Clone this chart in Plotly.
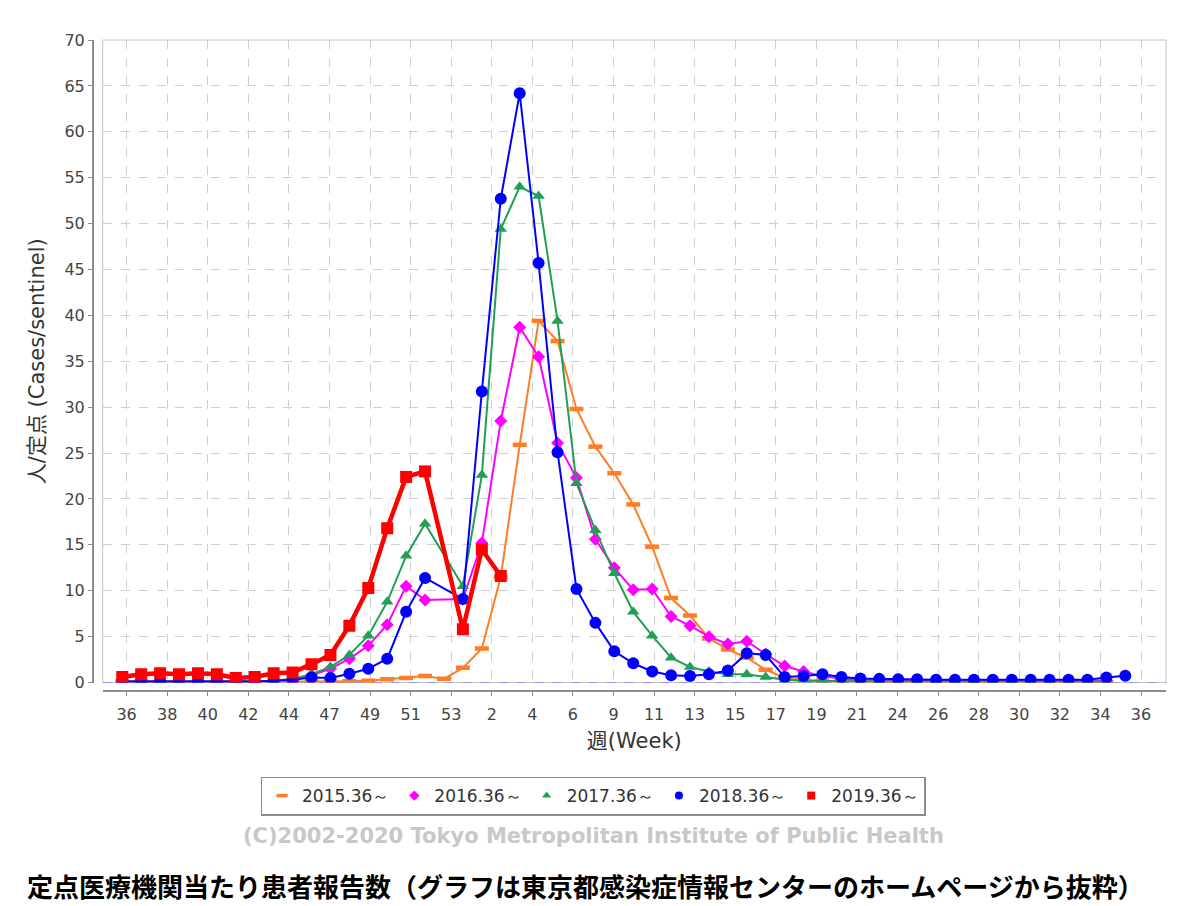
import plotly.graph_objects as go

# Weekly influenza reports per sentinel, Tokyo, five seasons (week 36 -> week 35/36)
FALL_WEEKS = list(range(36, 53))          # 36..52
SPRING_35 = list(range(1, 36))            # 1..35

weeks_2015 = (FALL_WEEKS + [53], SPRING_35)   # 2015 had a week 53
weeks_2016 = (FALL_WEEKS, SPRING_35)
weeks_2017 = (FALL_WEEKS, SPRING_35)
weeks_2018 = (FALL_WEEKS, list(range(1, 37)))
weeks_2019 = (FALL_WEEKS, [1, 2, 3])

vals_2015 = [0.1, 0.1, 0.05, 0.05, 0.05, 0.05, 0.05, 0.05, 0.05, 0.05, 0.1,
             0.1, 0.15, 0.2, 0.35, 0.5, 0.7, 0.4,
             1.6, 3.7, 11.5, 25.9, 39.4, 37.2, 29.8, 25.7, 22.8, 19.4,
             14.8, 9.2, 7.3, 4.8, 3.6, 2.7, 1.4, 0.5, 0.3, 0.2,
             0.2, 0.15, 0.1, 0.1, 0.1, 0.1, 0.1, 0.05, 0.05, 0.05,
             0.05, 0.05, 0.05, 0.05, 0.05]
vals_2016 = [0.1, 0.1, 0.1, 0.1, 0.1, 0.1, 0.1, 0.1, 0.2, 0.3, 0.8,
             1.5, 2.6, 4.0, 6.3, 10.5, 9.0,
             9.1, 15.2, 28.5, 38.7, 35.5, 26.1, 22.3, 15.6, 12.5, 10.1,
             10.2, 7.2, 6.2, 5.0, 4.2, 4.5, 3.1, 1.8, 1.2, 0.7,
             0.4, 0.3, 0.3, 0.2, 0.2, 0.2, 0.2, 0.2, 0.2, 0.25,
             0.25, 0.2, 0.2, 0.2, 0.2]
vals_2017 = [0.1, 0.1, 0.1, 0.1, 0.1, 0.1, 0.1, 0.1, 0.2, 0.4, 0.9,
             1.7, 3.0, 5.1, 8.8, 13.8, 17.3,
             10.5, 22.6, 49.4, 54.0, 53.0, 39.4, 21.7, 16.6, 11.9, 7.7,
             5.1, 2.7, 1.7, 1.2, 0.9, 0.9, 0.6, 0.3, 0.2, 0.2,
             0.15, 0.15, 0.1, 0.1, 0.1, 0.1, 0.1, 0.1, 0.1, 0.1,
             0.1, 0.1, 0.1, 0.1, 0.1]
vals_2018 = [0.1, 0.1, 0.1, 0.1, 0.1, 0.1, 0.1, 0.1, 0.2, 0.3, 0.55,
             0.5, 0.95, 1.5, 2.6, 7.7, 11.4,
             9.1, 31.7, 52.7, 64.2, 45.7, 25.1, 10.2, 6.5, 3.4, 2.1,
             1.2, 0.8, 0.7, 0.9, 1.3, 3.2, 3.0, 0.6, 0.7, 0.9,
             0.6, 0.45, 0.4, 0.35, 0.35, 0.3, 0.3, 0.3, 0.3, 0.3,
             0.3, 0.3, 0.3, 0.3, 0.55, 0.75]
vals_2019 = [0.6, 0.9, 1.0, 0.9, 1.0, 0.9, 0.5, 0.6, 1.0, 1.1, 2.0,
             3.0, 6.2, 10.3, 16.8, 22.4, 23.0,
             5.8, 14.5, 11.6]

season_names = ["2015.36～", "2016.36～", "2017.36～", "2018.36～", "2019.36～"]

tick_labels = ["36", "38", "40", "42", "44", "47", "49", "51", "53", "2", "4", "6", "9",
               "11", "13", "15", "17", "19", "21", "24", "26", "28", "30", "32", "34", "36"]

y_ticks = list(range(0, 75, 5))


def slots(weeks):
    # position on the season axis: week 36 -> 0, week 53 -> 17, week 1 -> 18
    fall, spring = weeks
    return [w - 36 for w in fall] + [w + 17 for w in spring]


series = [
    (weeks_2015, vals_2015, "#ff7d26", dict(symbol="line-ew", size=10, line=dict(width=4.5, color="#ff7d26")), 2),
    (weeks_2016, vals_2016, "#ff00ff", dict(symbol="diamond", size=10), 2),
    (weeks_2017, vals_2017, "#21a055", dict(symbol="triangle-up", size=11), 2),
    (weeks_2018, vals_2018, "#0000ff", dict(symbol="circle", size=12), 2),
    (weeks_2019, vals_2019, "#ff0000", dict(symbol="square", size=12), 4.5),
]

fig = go.Figure()

for (weeks, vals, color, marker, lw), name in zip(series, season_names):
    xs = slots(weeks)
    assert len(xs) == len(vals), name
    fig.add_trace(go.Scatter(
        x=xs, y=vals, mode="lines+markers", name=name, showlegend=False,
        line=dict(color=color, width=lw),
        marker=dict(color=color, **marker),
        hoverinfo="skip",
    ))

# legend shows markers only, like the original
for (weeks, vals, color, marker, lw), name in zip(series, season_names):
    m = dict(marker)
    m["size"] = 8
    if m["symbol"] == "line-ew":
        m["line"] = dict(width=3.5, color=color)
    fig.add_trace(go.Scatter(
        x=[None], y=[None], mode="markers", name=name,
        marker=dict(color=color, **m),
    ))

tick_vals = [0.23 + 2.144 * i for i in range(len(tick_labels))]

axis_font = dict(family="DejaVu Sans", size=16, color="#444444")
title_font = dict(family="DejaVu Sans, Noto Sans CJK JP", size=21, color="#333333")

# the page body adds an 8px offset, so everything sits 8px up/left of the target
fig.update_layout(
    width=1200, height=906,
    margin=dict(l=85, r=42, t=32, b=223),
    paper_bgcolor="white", plot_bgcolor="white",
    xaxis=dict(
        domain=[0.009, 1], anchor="free", position=0,
        range=[-1.035, 55.15],
        tickvals=tick_vals, ticktext=tick_labels,
        showline=True, linecolor="#8c8c8c", linewidth=2,
        ticks="outside", ticklen=4, tickcolor="#8c8c8c", ticklabelstandoff=5,
        showgrid=True, gridcolor="#cfcfcf", griddash="dash", gridwidth=1,
        zeroline=False, tickfont=axis_font,
        title=dict(text="週(Week)", font=title_font, standoff=9),
    ),
    yaxis=dict(
        domain=[0.013, 1], anchor="free", position=0,
        range=[0, 70], tickvals=y_ticks,
        showline=True, linecolor="#8c8c8c", linewidth=2,
        ticks="outside", ticklen=4, tickcolor="#8c8c8c",
        showgrid=True, gridcolor="#cfcfcf", griddash="dash", gridwidth=1,
        zeroline=False, tickfont=axis_font,
        title=dict(text="人/定点 (Cases/sentinel)", font=title_font, standoff=13),
    ),
    legend=dict(
        orientation="h", xref="container", yref="container",
        x=0.4875, y=0.1302, xanchor="center", yanchor="middle",
        bordercolor="#8c8c8c", borderwidth=1.5, bgcolor="white",
        font=dict(family="DejaVu Sans", size=17, color="#333333"),
        itemwidth=30,
    ),
    shapes=[
        # plot outline
        dict(type="rect", xref="x domain", yref="y domain", x0=0, x1=1, y0=0, y1=1,
             line=dict(color="#c4c4c4", width=1), layer="below"),
        # dashed zero baseline
        dict(type="line", xref="x domain", yref="y", x0=0, x1=1, y0=0, y1=0,
             line=dict(color="#6a6aff", width=1, dash="dash"), layer="below"),
    ],
    annotations=[
        dict(text="(C)2002-2020 Tokyo Metropolitan Institute of Public Health",
             xref="paper", yref="paper", x=0.466, y=-0.2227, showarrow=False,
             xanchor="center", yanchor="middle",
             font=dict(family="DejaVu Sans", size=21, color="#c8c8c8", weight="bold")),
        dict(text="定点医療機関当たり患者報告数（グラフは東京都感染症情報センターのホームページから抜粋）",
             xref="paper", yref="paper", x=0.459, y=-0.2995, showarrow=False,
             xanchor="center", yanchor="middle",
             font=dict(family="Noto Sans CJK JP", size=26, color="#000000", weight="bold")),
    ],
)

fig.write_html("out.html")
